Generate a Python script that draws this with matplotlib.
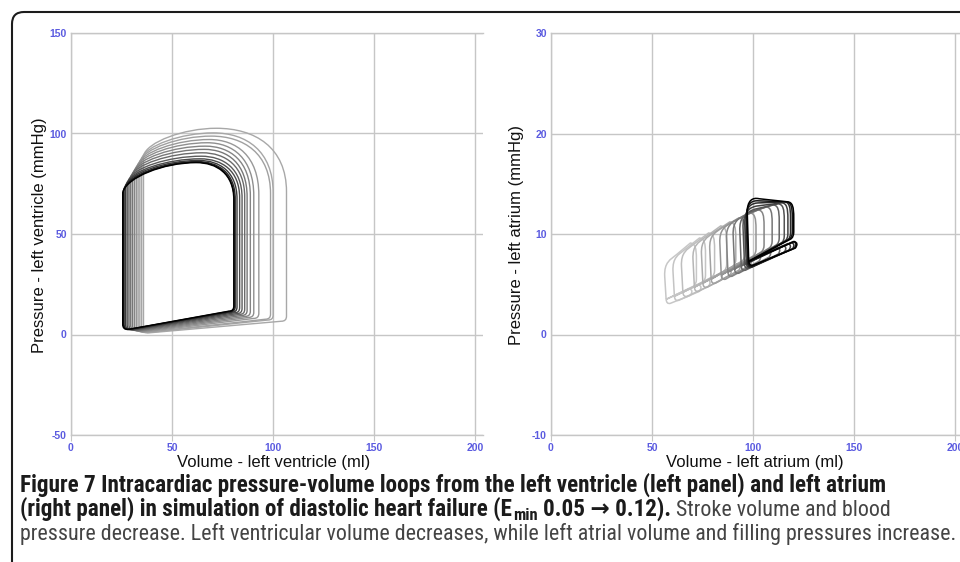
"""
Pressure-volume loops of the left ventricle and left atrium
(simulated diastolic heart failure), with figure caption.
"""

import numpy as np
import matplotlib
matplotlib.use('Agg')
import matplotlib.pyplot as plt
from matplotlib import font_manager
from matplotlib.path import Path
from matplotlib.patches import PathPatch, FancyBboxPatch
from matplotlib.transforms import IdentityTransform

plt.rcParams['axes.unicode_minus'] = False

# ---- left ventricle loops, first (light) -> last (black) ----
lv_esv = [35.9, 35.0, 34.1, 33.2, 32.3, 31.4, 30.5, 29.6, 28.7, 27.8, 27.0, 26.3, 25.9, 25.6]
lv_edv = [106.7, 100.1, 98.8, 93.0, 90.5, 88.8, 87.2, 86.0, 84.7, 83.5, 82.2, 81.3, 80.8, 80.6]
lv_p_min = [0.8, 0.9, 1.0, 1.2, 1.4, 1.6, 1.8, 2.0, 2.2, 2.3, 2.4, 2.5, 2.5, 2.5]
lv_p_ed = [6.6, 7.2, 7.6, 8.0, 8.5, 9.0, 9.5, 10.0, 10.4, 10.8, 11.1, 11.3, 11.5, 11.6]
lv_p_shoulder = [71.0, 70.5, 70.0, 69.5, 69.0, 69.0, 68.5, 68.5, 68.0, 68.0, 67.5, 67.5, 67.0, 67.0]
lv_p_peak = [102.6, 100.3, 98.7, 97.0, 95.4, 93.7, 92.1, 90.4, 88.7, 87.4, 86.6, 86.0, 85.7, 85.5]
lv_v_peak = [72.0, 70.5, 69.5, 68.5, 67.5, 66.5, 66.0, 65.0, 64.5, 64.0, 63.3, 62.7, 62.3, 62.0]
lv_p_es = [89.0, 87.5, 86.0, 84.5, 83.0, 81.5, 80.0, 78.5, 77.0, 75.5, 74.0, 72.5, 71.4, 70.6]

# ---- left atrium loops, first (light) -> last (black) ----
la_v_left = [56.6, 60.7, 64.9, 70.6, 74.8, 78.9, 83.9, 87.2, 90.5, 93.8, 95.4, 96.3, 96.9, 97.2, 97.5]
la_v_right = [72.0, 76.5, 81.0, 87.0, 91.5, 96.0, 101.5, 105.5, 109.5, 113.0, 115.5, 117.3, 118.6, 119.5, 120.2]
la_p_low = [3.2, 3.5, 3.9, 4.4, 4.8, 5.2, 5.6, 5.9, 6.2, 6.5, 6.7, 6.8, 6.8, 6.9, 7.0]
la_p_high = [7.3, 7.8, 8.3, 9.0, 9.5, 10.0, 10.6, 11.0, 11.4, 11.8, 12.1, 12.5, 12.9, 13.2, 13.5]
la_p_high_right = [9.1, 9.6, 10.1, 10.8, 11.2, 11.6, 12.1, 12.4, 12.7, 12.9, 13.0, 13.1, 13.2, 13.2, 13.2]
la_p_right_low = [5.0, 5.4, 5.9, 6.5, 7.0, 7.5, 8.0, 8.4, 8.8, 9.1, 9.3, 9.5, 9.6, 9.7, 9.7]
la_v_lobe = [70.0, 74.5, 79.0, 85.0, 89.5, 94.0, 99.5, 104.0, 109.0, 113.5, 116.5, 118.8, 120.5, 121.5, 122.0]

x_ticks = [0, 50, 100, 150, 200]
lv_y_ticks = [-50, 0, 50, 100, 150]
la_y_ticks = [-10, 0, 10, 20, 30]

caption_1 = "Figure 7 Intracardiac pressure-volume loops from the left ventricle (left panel) and left atrium"
caption_2a = "(right panel) in simulation of diastolic heart failure (E"
caption_2b = "min"
caption_2c = " 0.05 \u2192 0.12)."
caption_2d = " Stroke volume and blood"
caption_3 = ("pressure decrease. Left ventricular volume decreases, while left atrial "
             "volume and filling pressures increase.")

W, H = 960, 562
GRID = '#c6c6c6'
TICK_BLUE = '#5b5be0'

fonts = font_manager.fontManager.ttflist
names = {f.name for f in fonts}
LABEL_FONT = 'Liberation Sans' if 'Liberation Sans' in names else 'DejaVu Sans'

# a narrow face for the caption, if one is installed
CAP_FONT, CAP_STRETCH = LABEL_FONT, 'normal'
for want in ['Liberation Sans Narrow', 'Roboto Condensed', 'Open Sans Condensed']:
    if want in names:
        CAP_FONT = want
        break
else:
    for f in fonts:
        if f.name in ('DejaVu Sans', 'Open Sans', 'Roboto', 'Noto Sans') and f.stretch in ('condensed', 'semi-condensed'):
            CAP_FONT, CAP_STRETCH = f.name, f.stretch
            break


def lv_loop(esv, edv, p_min, p_ed, p_sh, p_peak, v_peak, p_es):
    r = 2.5
    verts = [
        (esv + r, p_min),
        (edv - r, p_ed),
        (edv, p_ed), (edv, p_ed + r),
        (edv, p_sh),
        (edv, p_sh + 0.7 * (p_peak - p_sh)), (v_peak + 0.55 * (edv - v_peak), p_peak), (v_peak, p_peak),
        (v_peak - 0.45 * (v_peak - esv), p_peak), (esv + 0.05 * (v_peak - esv), p_es + 0.5 * (p_peak - p_es)),
        (esv, p_es),
        (esv, p_min + r),
        (esv, p_min), (esv + r, p_min),
    ]
    codes = [Path.MOVETO, Path.LINETO, Path.CURVE3, Path.CURVE3, Path.LINETO,
             Path.CURVE4, Path.CURVE4, Path.CURVE4, Path.CURVE4, Path.CURVE4, Path.CURVE4,
             Path.LINETO, Path.CURVE3, Path.CURVE3]
    return Path(verts, codes)


def la_loop(vl, vr, p_lo, p_hi, p_hr, p_rb, v_lobe):
    verts = [
        (vl + 0.4, p_lo + 0.3),
        (vl - 0.3, p_hi - 1.5),
        (vl - 0.6, p_hi - 0.1), (vl + 2.5, p_hi + 0.15), (vl + 5.5, p_hi + 0.1 + (p_hr - p_hi) * 0.3),
        (vr - 3.0, p_hr),
        (vr - 0.6, p_hr - 0.05), (vr, p_hr - 0.5), (vr, p_hr - 1.6),
        (vr, p_rb + 0.5),
        (vr, p_rb), (vr - 1.5, p_rb - 0.2),
        (vl + 0.4, p_lo + 0.3),
        # small lobe underneath
        (v_lobe - 1.5, p_rb - 0.45),
        (v_lobe + 0.8, p_rb - 0.6), (v_lobe - 1.0, p_rb - 1.1),
        (vl + 2.5, p_lo - 0.1),
        (vl + 0.6, p_lo - 0.2), (vl + 0.4, p_lo + 0.3),
    ]
    codes = [Path.MOVETO, Path.LINETO, Path.CURVE4, Path.CURVE4, Path.CURVE4,
             Path.LINETO, Path.CURVE4, Path.CURVE4, Path.CURVE4,
             Path.LINETO, Path.CURVE3, Path.CURVE3, Path.LINETO,
             Path.LINETO, Path.CURVE3, Path.CURVE3, Path.LINETO,
             Path.CURVE3, Path.CURVE3]
    return Path(verts, codes)


def shades(n, light):
    t = np.linspace(0, 1, n)
    return [str(light * (1 - v ** 1.6)) for v in t]


def style_axes(ax, ylim, yticks):
    ax.set_xlim(0, 204)
    ax.set_ylim(*ylim)
    ax.set_xticks(x_ticks)
    ax.set_yticks(yticks)
    ax.grid(True, color=GRID, lw=1.0)
    ax.set_axisbelow(True)
    for side in ['left', 'top', 'bottom']:
        ax.spines[side].set_color(GRID)
        ax.spines[side].set_linewidth(1.0)
    ax.spines['right'].set_visible(False)
    ax.tick_params(axis='x', length=4, color=GRID, pad=2, labelsize=7.5, labelcolor=TICK_BLUE)
    ax.tick_params(axis='y', length=0, pad=3, labelsize=7.5, labelcolor=TICK_BLUE)
    for lab in ax.get_xticklabels() + ax.get_yticklabels():
        lab.set_fontweight('bold')
        lab.set_family(LABEL_FONT)


fig = plt.figure(figsize=(W / 100, H / 100), dpi=100)
ax1 = fig.add_axes([71 / W, 127 / H, 412 / W, 402 / H])
ax2 = fig.add_axes([551 / W, 127 / H, 412 / W, 402 / H])

style_axes(ax1, (-50, 150), lv_y_ticks)
style_axes(ax2, (-10, 30), la_y_ticks)

n_lv = len(lv_esv)
for i, col in enumerate(shades(n_lv, 0.66)):
    p = lv_loop(lv_esv[i], lv_edv[i], lv_p_min[i], lv_p_ed[i], lv_p_shoulder[i],
                lv_p_peak[i], lv_v_peak[i], lv_p_es[i])
    ax1.add_patch(PathPatch(p, fill=False, edgecolor=col, lw=1.0, zorder=3))

n_la = len(la_v_left)
for i, col in enumerate(shades(n_la, 0.78)):
    p = la_loop(la_v_left[i], la_v_right[i], la_p_low[i], la_p_high[i],
                la_p_high_right[i], la_p_right_low[i], la_v_lobe[i])
    ax2.add_patch(PathPatch(p, fill=False, edgecolor=col, lw=1.1, zorder=3))

# axis titles
lab_kw = dict(fontsize=12, family=LABEL_FONT, color='#111111', ha='center', va='center')
fig.text(40 / W, 1 - 235 / H, 'Pressure - left ventricle (mmHg)', rotation=90, **lab_kw)
fig.text(517 / W, 1 - 235 / H, 'Pressure - left atrium (mmHg)', rotation=90, **lab_kw)
fig.text(274 / W, 1 - 462 / H, 'Volume - left ventricle (ml)', **lab_kw)
fig.text(755 / W, 1 - 462 / H, 'Volume - left atrium (ml)', **lab_kw)

# frame around the figure
frame = FancyBboxPatch((12, -40), 1000, 550 + 40, boxstyle='round,pad=0,rounding_size=12',
                       transform=IdentityTransform(), fill=False, edgecolor='#1c1c1c', lw=1.5)
fig.add_artist(frame)

# caption
renderer = fig.canvas.get_renderer()
cap_family = [CAP_FONT, 'DejaVu Sans']


def text_width(s, size, weight):
    t = fig.text(0, 0, s, fontsize=size, fontweight=weight, family=cap_family, fontstretch=CAP_STRETCH)
    w = t.get_window_extent(renderer).width
    t.remove()
    return w


size = 12 * 935 / text_width(caption_3, 12, 'normal')
bsize = min(size * 1.05, 12 * 878 / text_width(caption_1, 12, 'bold'))
space = text_width('a a', bsize, 'bold') - text_width('aa', bsize, 'bold')
BOLD_C, REG_C = '#1b1b1b', '#444444'


def put(x, y, s, weight, color, fs, dy=0):
    if s.startswith(' '):
        x += space
        s = s[1:]
    t = fig.text(x / W, 1 - (y + dy) / H, s, fontsize=fs, fontweight=weight, family=cap_family,
                 fontstretch=CAP_STRETCH, color=color, ha='left', va='baseline')
    return x + t.get_window_extent(renderer).width


put(20, 492, caption_1, 'bold', BOLD_C, bsize)
x = put(20, 516, caption_2a, 'bold', BOLD_C, bsize)
x = put(x + 1, 516, caption_2b, 'bold', BOLD_C, bsize * 0.72, dy=4)
x = put(x, 516, caption_2c, 'bold', BOLD_C, bsize)
put(x, 516, caption_2d, 'normal', REG_C, size)
put(20, 540, caption_3, 'normal', REG_C, size)

fig.savefig('out.png', dpi=100)
